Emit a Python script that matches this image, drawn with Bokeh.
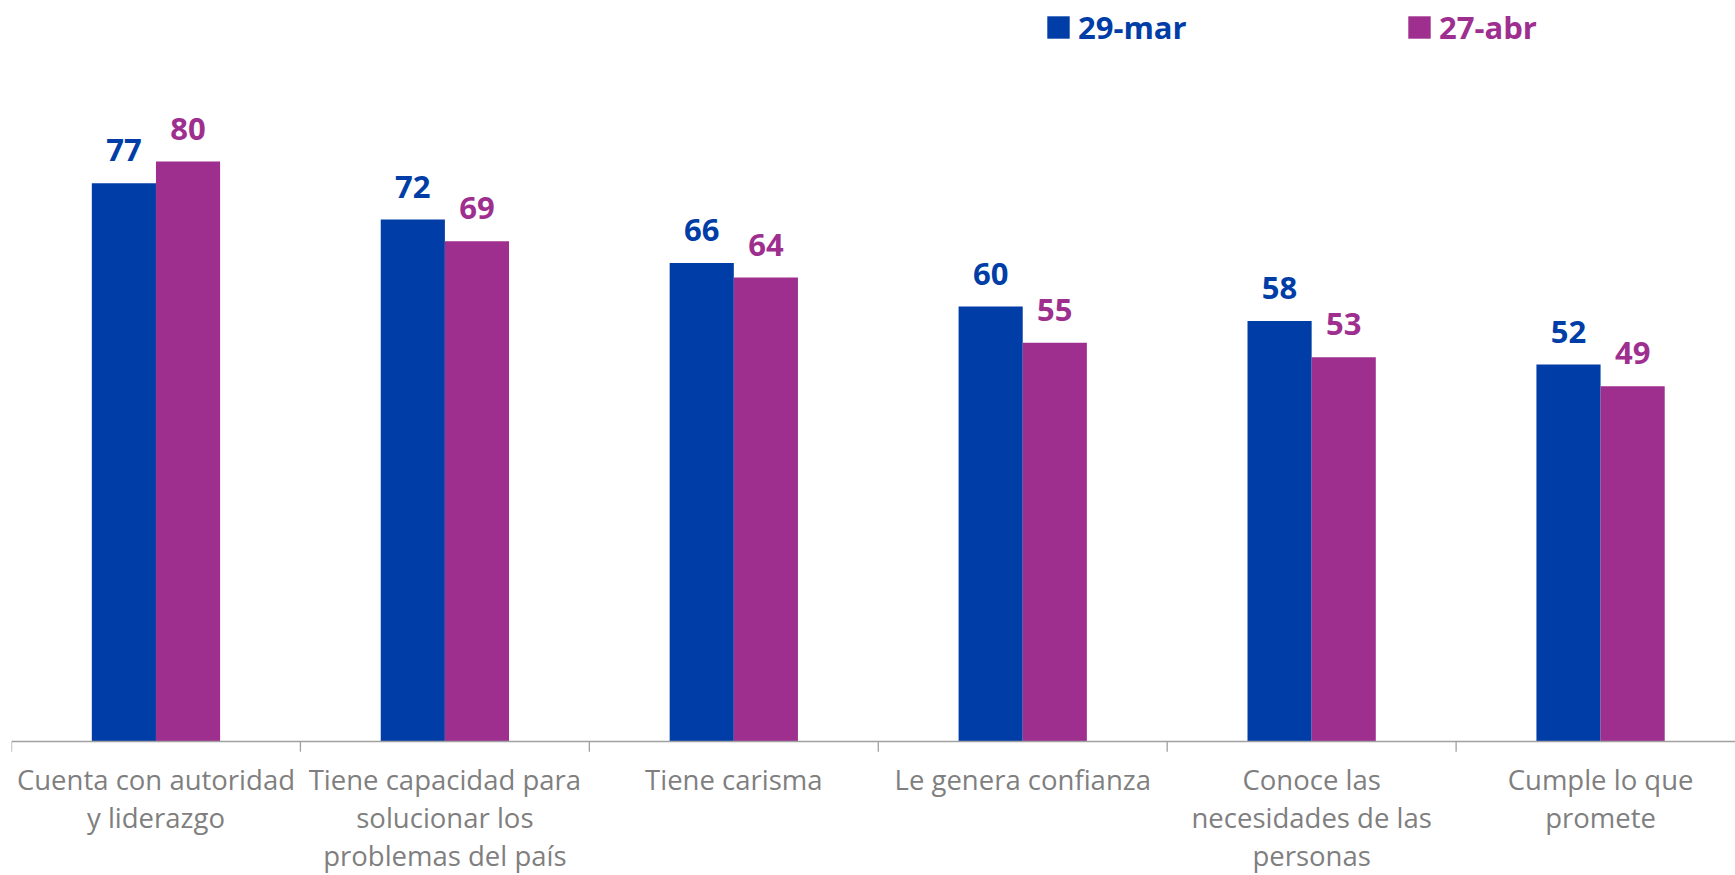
from bokeh.plotting import figure
from bokeh.models import Range1d, ColumnDataSource, Legend, LegendItem, Span
from bokeh.core.properties import value
from bokeh.transform import dodge
from bokeh.embed import file_html
from bokeh.resources import INLINE

categories = [
    "Cuenta con autoridad\ny liderazgo",
    "Tiene capacidad para\nsolucionar los\nproblemas del país",
    "Tiene carisma",
    "Le genera confianza",
    "Conoce las\nnecesidades de las\npersonas",
    "Cumple lo que\npromete",
]
series_names = ["29-mar", "27-abr"]
mar = [77, 72, 66, 60, 58, 52]
abr = [80, 69, 64, 55, 53, 49]

BLUE = "#003DA6"
PURPLE = "#9E2F8F"
GRAY_TXT = "#7F7F7F"
GRAY_AX = "#A0A0A0"

idx = list(range(len(categories)))
src = ColumnDataSource(dict(idx=idx, cat=categories, mar=mar, abr=abr,
                            mar_t=[str(v) for v in mar], abr_t=[str(v) for v in abr]))
bounds = [i - 0.5 for i in range(len(categories) + 1)]
tick_src = ColumnDataSource(dict(b=bounds, y0=[0] * len(bounds), y1=[-1.4] * len(bounds)))

p = figure(width=1735, height=875, output_backend="svg", toolbar_location=None,
           x_range=Range1d(-0.5, 5.467), y_range=Range1d(-18.48, 100),
           min_border_left=11, min_border_right=0, min_border_top=16, min_border_bottom=0,
           x_axis_type=None, y_axis_type=None)
p.outline_line_color = None
p.xgrid.visible = False
p.ygrid.visible = False
p.background_fill_color = "white"
p.border_fill_color = "white"

bw = 0.222
r1 = p.vbar(x=dodge("idx", -bw / 2), top="mar", width=bw, bottom=0, source=src,
            fill_color=BLUE, line_color=None)
r2 = p.vbar(x=dodge("idx", bw / 2), top="abr", width=bw, bottom=0, source=src,
            fill_color=PURPLE, line_color=None)

for col, tcol, off, color in (("mar", "mar_t", -bw / 2, BLUE), ("abr", "abr_t", bw / 2, PURPLE)):
    p.text(x=dodge("idx", off), y=col, text=tcol, source=src, text_align="center",
           text_baseline="alphabetic", y_offset=-33, text_font=value("Open Sans"),
           text_font_style="bold", text_font_size="31px", text_color=color)

# category axis: line, boundary ticks and labels
p.add_layout(Span(location=0, dimension="width", line_color=GRAY_AX, line_width=1.3))
p.segment(x0="b", y0="y0", x1="b", y1="y1", source=tick_src, line_color=GRAY_AX, line_width=1.3)
p.text(x="idx", y=0, text="cat", source=src, text_align="center", text_baseline="top",
       y_offset=19, text_font=value("Open Sans"), text_font_size="27.5px",
       text_color=GRAY_TXT, text_line_height=1.04)

for r, name, color, loc in ((r1, series_names[0], BLUE, (1033, 827)), (r2, series_names[1], PURPLE, (1394, 827))):
    leg = Legend(items=[LegendItem(label=name, renderers=[r])], location=loc,
                 label_text_color=color, label_text_font="Open Sans", label_text_font_style="bold",
                 label_text_font_size="31px", glyph_width=28, glyph_height=28, label_standoff=6,
                 padding=0, margin=0, border_line_color=None, background_fill_alpha=0)
    p.add_layout(leg, "center")

open("out.html", "w").write(file_html(p, INLINE))
